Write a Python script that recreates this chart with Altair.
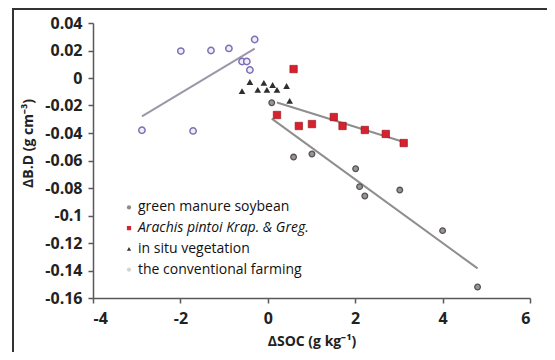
import altair as alt
import pandas as pd

# ---- data ----
# the conventional farming (purple open circles, upper left)
conv_x = [-2.88, -1.71, -1.99, -1.30, -0.89, -0.30, -0.59, -0.48, -0.41]
conv_y = [-0.038, -0.0385, 0.0196, 0.020, 0.0215, 0.028, 0.012, 0.012, 0.0058]
# green manure soybean (grey circles, lower right)
soy_x = [0.09, 0.59, 1.01, 2.01, 2.10, 2.22, 3.02, 4.00, 4.80]
soy_y = [-0.018, -0.0575, -0.0553, -0.066, -0.079, -0.0858, -0.0815, -0.111, -0.152]
# Arachis pintoi (red squares)
ara_x = [0.59, 0.21, 0.71, 1.01, 1.51, 1.71, 2.22, 2.70, 3.11]
ara_y = [0.0065, -0.0269, -0.0349, -0.0335, -0.0284, -0.0349, -0.0378, -0.0407, -0.0473]
# in situ vegetation (dark triangles)
ins_x = [-0.41, -0.59, -0.23, -0.09, -0.02, 0.11, 0.21, 0.43, 0.50]
ins_y = [-0.0029, -0.0095, -0.0087, -0.0036, -0.0087, -0.0051, -0.0087, -0.0058, -0.0167]

legend_labels = ["green manure soybean", "Arachis pintoi Krap. & Greg.",
                 "in situ vegetation", "the conventional farming"]
x_ticks = [-4, -2, 0, 2, 4, 6]
y_ticks = [0.04, 0.02, 0, -0.02, -0.04, -0.06, -0.08, -0.1, -0.12, -0.14, -0.16]

FONT = "Open Sans"
AX = "#595959"


def frame(xs, ys):
    return pd.DataFrame({"x": xs, "y": ys})


minus_fix = "replace(format(datum.value, '~g'), '\u2212', '-')"

X = alt.X("x:Q", scale=alt.Scale(domain=[-4, 6], nice=False, zero=False),
          axis=alt.Axis(values=x_ticks, title="ΔSOC (g kg⁻¹)", labelExpr=minus_fix,
                        grid=False, domainColor=AX, domainWidth=1.5, tickColor=AX,
                        tickWidth=1.5, tickSize=5, labelPadding=7,
                        labelFont=FONT, labelFontSize=16, labelFontWeight="bold",
                        labelColor="#222", titleFont=FONT, titleFontSize=14,
                        titleFontWeight="bold", titleColor="#222", titlePadding=8))
Y = alt.Y("y:Q", scale=alt.Scale(domain=[-0.16, 0.04], nice=False, zero=False),
          axis=alt.Axis(values=y_ticks, title="ΔB.D (g cm⁻³)", labelExpr=minus_fix,
                        grid=False, domainColor=AX, domainWidth=1.5, tickColor=AX,
                        tickWidth=1.5, tickSize=5, labelPadding=6,
                        labelFont=FONT, labelFontSize=16, labelFontWeight="bold",
                        labelColor="#222", titleFont=FONT, titleFontSize=14,
                        titleFontWeight="bold", titleColor="#222",
                        titleX=-58, titleY=120))

conv = alt.Chart(frame(conv_x, conv_y))
soy = alt.Chart(frame(soy_x, soy_y))
ara = alt.Chart(frame(ara_x, ara_y))
ins = alt.Chart(frame(ins_x, ins_y))

line_kw = dict(color="#8e8e8e", strokeWidth=2)
conv_line = conv.transform_regression("x", "y").mark_line(color="#9c97a8", strokeWidth=2).encode(x=X, y=Y)
soy_line = soy.transform_regression("x", "y").mark_line(**line_kw).encode(x=X, y=Y)
ara_line = ara.transform_regression("x", "y").mark_line(**line_kw).encode(x=X, y=Y)

conv_pts = conv.mark_point(shape="circle", size=40, stroke="#7d6fb5", strokeWidth=1.5,
                           fill="#f2eef8", filled=False, fillOpacity=1).encode(x=X, y=Y)
soy_pts = soy.mark_point(shape="circle", size=32, stroke="#55505c", strokeWidth=1.3,
                         fill="#9a958d", fillOpacity=1).encode(x=X, y=Y)
ara_pts = ara.mark_point(shape="square", size=55, filled=True, color="#d9202e",
                         stroke="#8a1018", strokeWidth=0.6, opacity=1).encode(x=X, y=Y)
ins_pts = ins.mark_point(shape="triangle-up", size=45, filled=True, color="#2e2e2e",
                         opacity=1).encode(x=X, y=Y)

dummy = alt.Chart(pd.DataFrame({"k": [0]}))
top_frame = dummy.mark_rule(color="#333", strokeWidth=2).encode(
    x=alt.value(-80), x2=alt.value(480), y=alt.value(-14))
left_frame = dummy.mark_rule(color="#333", strokeWidth=2).encode(
    x=alt.value(-80), y=alt.value(-15), y2=alt.value(345))

main = alt.layer(top_frame, left_frame, conv_line, soy_line, ara_line,
                 conv_pts, soy_pts, ins_pts, ara_pts)

leg = alt.Chart(pd.DataFrame({"label": legend_labels}))
LY = alt.Y("label:N", scale=alt.Scale(domain=legend_labels, range=[174, 257]), axis=None)
leg_pts = leg.mark_point(filled=True, size=18, opacity=1).encode(
    x=alt.value(36), y=LY,
    shape=alt.Shape("label:N", scale=alt.Scale(domain=legend_labels,
                    range=["circle", "square", "triangle-up", "circle"]), legend=None),
    color=alt.Color("label:N", scale=alt.Scale(domain=legend_labels,
                    range=["#8f8a85", "#d9232e", "#333333", "#d4d4d4"]), legend=None))
leg_txt = leg.transform_filter(alt.datum.label != legend_labels[1]).mark_text(
    align="left", baseline="middle", font=FONT, fontSize=14, color="#111").encode(
    x=alt.value(45), y=LY, text="label:N")
leg_txt_it = leg.transform_filter(alt.datum.label == legend_labels[1]).mark_text(
    align="left", baseline="middle", font=FONT, fontSize=14, fontStyle="italic",
    color="#111").encode(x=alt.value(45), y=LY, text="label:N")
legend = alt.layer(leg_pts, leg_txt, leg_txt_it)

chart = alt.layer(main, legend).resolve_scale(
    y="independent", shape="independent", color="independent"
).properties(
    width=437, height=275,
    autosize=alt.AutoSizeParams(type="none"),
    padding={"left": 85, "top": 15, "right": 17, "bottom": 54},
    background="white",
).configure_view(stroke=None)

chart.save("out.html", embed_options={"renderer": "svg", "actions": False})
